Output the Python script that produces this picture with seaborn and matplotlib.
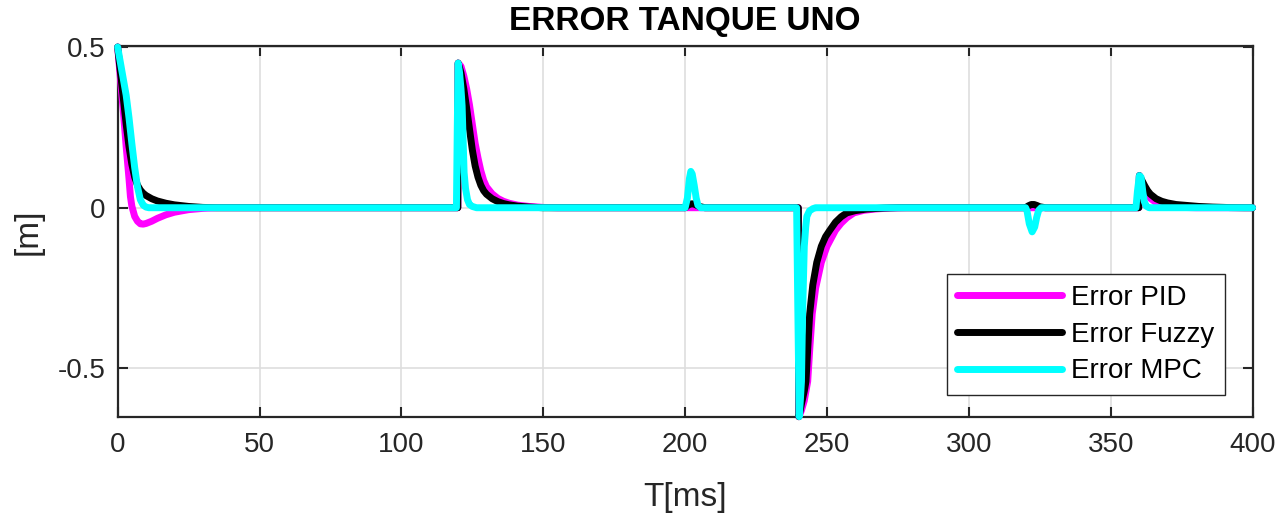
import numpy as np
import pandas as pd
import matplotlib
matplotlib.use("Agg")
import matplotlib.pyplot as plt
import seaborn as sns

# data (time in ms, error in m)
t_pid = [0, 1, 2, 2.5, 3, 4, 4.5, 5, 6, 7, 8, 9, 10, 12, 14, 17, 20, 25, 30, 35,
         119.9, 120, 121, 122, 123, 124, 125, 126, 127, 128, 129, 130, 131, 132, 134, 136, 138, 141, 145, 150, 155,
         239.9, 240.1, 241, 242, 243.2, 244, 244.8, 246, 248, 250, 251.5, 253, 255, 257, 259.5, 263, 267, 272, 278,
         359.9, 360.1, 361, 362, 363, 364, 366, 368, 371, 375, 380, 400]
e_pid = [0.5, 0.40, 0.30, 0.245, 0.19, 0.09, 0.035, 0.005, -0.027, -0.042, -0.05, -0.051, -0.049, -0.042,
         -0.033, -0.022, -0.014, -0.006, -0.002, 0.0,
         0.0, 0.45, 0.44, 0.41, 0.37, 0.32, 0.26, 0.2, 0.155, 0.115, 0.085, 0.065, 0.054, 0.043, 0.029, 0.02,
         0.014, 0.008, 0.004, 0.001, 0.0,
         0.0, -0.65, -0.63, -0.6, -0.54, -0.43, -0.33, -0.25, -0.17, -0.12, -0.095, -0.07, -0.048, -0.031,
         -0.016, -0.008, -0.004, -0.001, 0.0,
         0.0, 0.1, 0.075, 0.055, 0.04, 0.029, 0.016, 0.009, 0.004, 0.001, 0.0, 0.0]

t_fuzzy = [0, 1, 2, 3, 4, 5, 6, 7, 8, 9, 10, 12, 14, 17, 20, 25, 30, 35,
           119.9, 120, 121, 122, 123, 124, 125, 126, 127, 128, 129, 130, 132, 134, 136, 138, 141, 145, 150,
           200, 201, 202, 203, 204, 205, 207,
           239.9, 240.1, 241, 242, 242.6, 243.2, 243.9, 245, 246.4, 248, 249.5, 251, 253, 255, 257, 260, 264, 270, 275,
           320, 321, 322, 323, 324, 325, 327,
           359.9, 360.1, 361, 362, 363, 364, 366, 368, 370, 373, 377, 381, 386, 392, 397, 400]
e_fuzzy = [0.5, 0.42, 0.34, 0.26, 0.19, 0.135, 0.095, 0.07, 0.055, 0.045, 0.038, 0.028, 0.021, 0.014,
           0.009, 0.004, 0.001, 0.0,
           0.0, 0.45, 0.42, 0.37, 0.31, 0.245, 0.18, 0.13, 0.095, 0.07, 0.053, 0.042, 0.028, 0.019, 0.013,
           0.009, 0.005, 0.002, 0.0,
           0.0, 0.008, 0.012, 0.012, 0.008, 0.004, 0.0,
           0.0, -0.65, -0.61, -0.57, -0.54, -0.44, -0.33, -0.24, -0.17, -0.12, -0.09, -0.07, -0.045, -0.028,
           -0.016, -0.009, -0.004, -0.001, 0.0,
           0.0, 0.006, 0.01, 0.01, 0.007, 0.003, 0.0,
           0.0, 0.1, 0.085, 0.068, 0.053, 0.042, 0.028, 0.02, 0.015, 0.01, 0.007, 0.004, 0.002, 0.0005, 0.0, 0.0]

t_mpc = [0, 1, 2, 3, 4, 5, 6, 7, 8, 9, 10, 11,
         119.4, 119.7, 120, 120.5, 121, 121.4, 121.8, 122.1, 122.6, 123.3, 124, 125, 126.5,
         200, 200.8, 201.5, 202, 202.5, 203.2, 203.9, 204.5, 205.5,
         239.3, 239.7, 240.2, 240.6, 241, 241.4, 242, 242.5, 242.9, 243.8, 245, 246,
         320, 320.5, 321.3, 322.3, 323.2, 323.9, 324.6, 325.5,
         358.9, 359.4, 360.1, 360.7, 361.3, 361.8, 362.5, 363.5, 400]
e_mpc = [0.5, 0.45, 0.40, 0.35, 0.28, 0.2, 0.125, 0.065, 0.025, 0.008, 0.002, 0.0,
         0.0, 0.25, 0.45, 0.42, 0.37, 0.317, 0.2, 0.11, 0.06, 0.025, 0.01, 0.004, 0.0,
         0.0, 0.03, 0.09, 0.113, 0.105, 0.07, 0.03, 0.008, 0.0,
         0.0, -0.3, -0.65, -0.6, -0.54, -0.33, -0.12, -0.06, -0.027, -0.01, -0.003, 0.0,
         0.0, -0.01, -0.05, -0.075, -0.06, -0.03, -0.008, 0.0,
         0.0, 0.05, 0.1, 0.095, 0.05, 0.02, 0.005, 0.0, 0.0]

df_pid = pd.DataFrame({"t": t_pid, "e": e_pid})
df_fuzzy = pd.DataFrame({"t": t_fuzzy, "e": e_fuzzy})
df_mpc = pd.DataFrame({"t": t_mpc, "e": e_mpc})

sns.set_theme(style="white")
plt.rcParams['font.family'] = ['Liberation Sans', 'DejaVu Sans']

fig = plt.figure(figsize=(12.83, 5.13), dpi=100)
ax = fig.add_axes([0.0917, 0.1877, 0.8846, 0.7226])

line_kw = dict(linewidth=5, sort=False, estimator=None, clip_on=False,
               solid_capstyle="round", solid_joinstyle="round")
sns.lineplot(data=df_pid, x="t", y="e", ax=ax, color="#ff00ff", label="Error PID", **line_kw)
sns.lineplot(data=df_fuzzy, x="t", y="e", ax=ax, color="#000000", label="Error Fuzzy", **line_kw)
sns.lineplot(data=df_mpc, x="t", y="e", ax=ax, color="#00ffff", label="Error MPC", **line_kw)

ax.set_xlim(0, 400)
ax.set_ylim(-0.65, 0.503)
ax.set_xticks(np.arange(0, 401, 50))
ax.set_yticks([-0.5, 0, 0.5])
ax.set_yticklabels(["-0.5", "0", "0.5"])

ax.grid(True, color="#dedede", linewidth=1.2)
ax.set_axisbelow(True)
for s in ax.spines.values():
    s.set_visible(True)
    s.set_color("#262626")
    s.set_linewidth(1.6)
    s.set_zorder(1.5)

ax.tick_params(axis="both", direction="in", length=7, width=1.5, colors="#262626",
               labelsize=20, top=True, right=True, bottom=True, left=True)
ax.tick_params(axis="x", pad=11)
ax.tick_params(axis="y", pad=9)

ax.set_title("ERROR TANQUE UNO", fontsize=24, fontweight="bold", color="black", pad=11.5)
ax.set_xlabel("T[ms]", fontsize=24, color="#262626", labelpad=17)
ax.set_ylabel("[m]", fontsize=24, color="#262626", labelpad=10)

leg = ax.legend(loc="lower right", bbox_to_anchor=(0.9756, 0.0585), borderaxespad=0,
                fontsize=20, frameon=True, fancybox=False, handlelength=3.78,
                handletextpad=0.32, labelspacing=0.39, borderpad=0.38)
leg.get_frame().set_edgecolor("#262626")
leg.get_frame().set_linewidth(1.0)
leg.get_frame().set_alpha(1)
for line in leg.get_lines():
    line.set_linewidth(5)
for txt in leg.get_texts():
    txt.set_color("black")

fig.savefig("out.png", dpi=100)
